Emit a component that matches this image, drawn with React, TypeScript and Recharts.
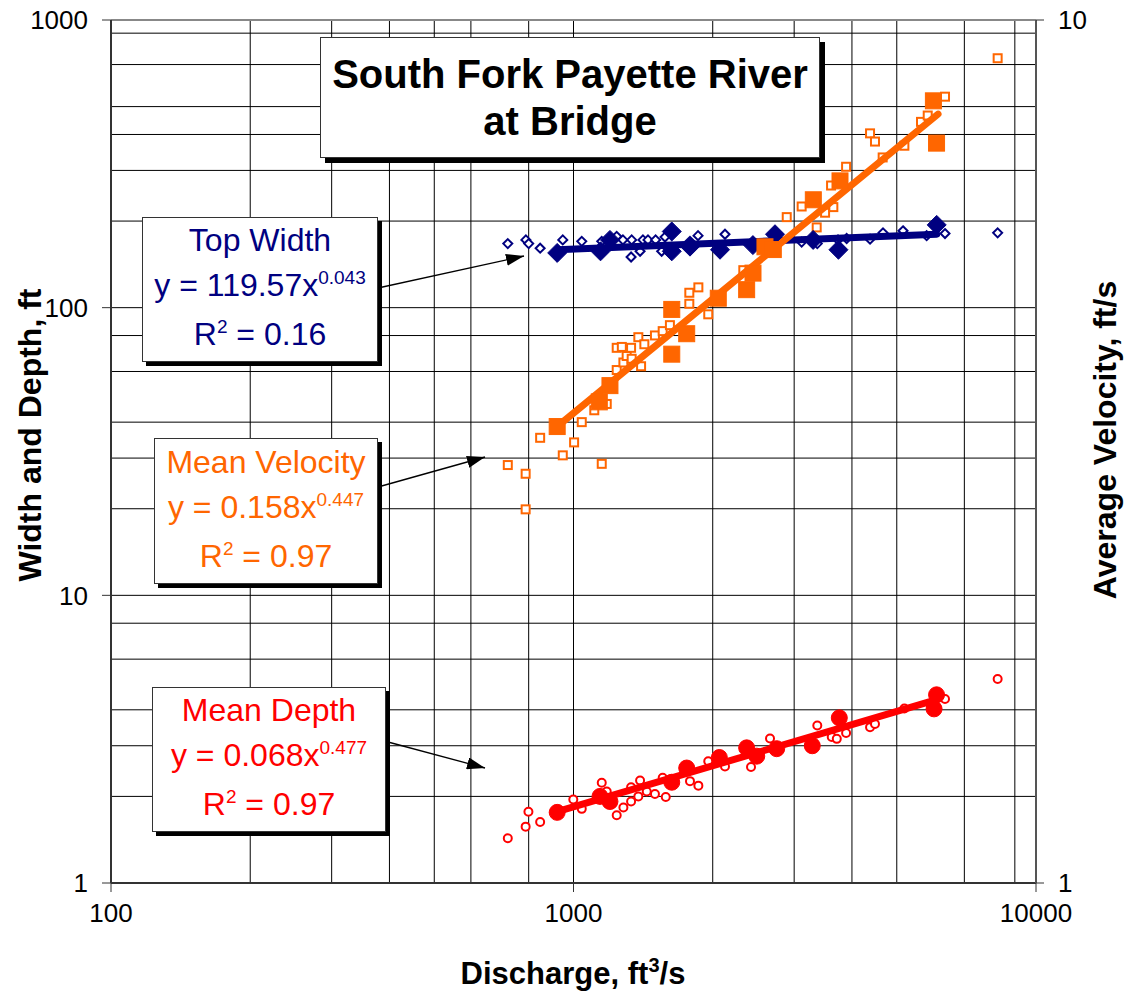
import React from "react";
import { CartesianGrid, ReferenceLine, Scatter, ScatterChart, XAxis, YAxis } from "recharts";

const NAVY = "#000080";
const ORANGE = "#FF6600";
const RED = "#FF0000";
const FONT = "Arial, 'Liberation Sans', Helvetica, sans-serif";

// axis ticks and log grid values
const xTicks = [100, 1000, 10000];
const leftTicks = [1, 10, 100, 1000];
const rightTicks = [1, 10];
const xGridValues = [200, 300, 400, 500, 600, 700, 800, 900, 1000, 2000, 3000, 4000, 5000, 6000, 7000, 8000, 9000];
const yGridValues = [2, 3, 4, 5, 6, 7, 8, 9, 10, 20, 30, 40, 50, 60, 70, 80, 90, 100, 200, 300, 400, 500, 600, 700, 800, 900];

// [discharge ft3/s, top width ft] — all measurements
const widthAll: [number, number][] = [
  [721, 167], [789, 172], [800, 167], [847, 161], [948, 172], [1042, 170], [1151, 170], [1240, 177],
  [1279, 172], [1336, 172], [1332, 150], [1393, 157], [1413, 172], [1449, 172], [1505, 172], [1551, 157],
  [1577, 176], [1786, 170], [1859, 178], [2126, 180], [3114, 169], [3366, 167], [3732, 172], [3896, 174],
  [4377, 173], [4669, 182], [5158, 185], [5802, 178], [6357, 181], [8262, 182],
];
// selected measurements used for the regression
const widthSel: [number, number][] = [
  [922, 155], [1144, 157], [1199, 172], [1631, 184], [1631, 157], [1786, 163], [2074, 159], [2443, 165],
  [2727, 180], [3297, 172], [3740, 159], [6100, 194],
];
const widthFit: [number, number][] = [[922, 159], [6100, 180]];

// [discharge, mean velocity ft/s] (right axis)
const velAll: [number, number][] = [
  [721, 3.05], [788, 2.98], [788, 2.71], [847, 3.28], [948, 3.13], [1003, 3.24], [1042, 3.42], [1151, 3.06],
  [1109, 3.53], [1180, 3.59], [1240, 3.93], [1240, 4.17], [1272, 4.18], [1282, 4.01], [1303, 4.08], [1332, 4.17],
  [1336, 4.05], [1381, 4.29], [1400, 3.97], [1423, 4.21], [1500, 4.31], [1559, 4.36], [1616, 4.43], [1780, 4.69],
  [1780, 4.83], [1862, 4.9], [1956, 4.56], [2329, 5.13], [2891, 5.91], [3114, 6.08], [3356, 5.75], [3499, 5.98],
  [3605, 6.43], [3646, 6.07], [3885, 6.76], [4377, 7.39], [4486, 7.23], [4661, 6.93], [5193, 7.15], [5641, 7.62],
  [5833, 7.75], [6357, 8.15], [8262, 9.03],
];
const velSel: [number, number][] = [
  [922, 3.38], [1137, 3.61], [1199, 3.77], [1631, 4.1], [1631, 4.62], [1757, 4.33], [2056, 4.76], [2368, 4.87],
  [2444, 5.09], [2594, 5.46], [2704, 5.42], [3300, 6.19], [3769, 6.51], [6000, 8.06], [6095, 7.2],
];
const velFit: [number, number][] = [[922, 3.38], [6140, 7.78]];

// [discharge, mean depth ft]
const depthAll: [number, number][] = [
  [721, 1.43], [788, 1.57], [799, 1.77], [847, 1.63], [999, 1.95], [1042, 1.81], [1151, 2.23], [1180, 2.08],
  [1240, 1.72], [1282, 1.83], [1332, 2.15], [1332, 1.92], [1381, 2.0], [1393, 2.27], [1440, 2.08], [1500, 2.04],
  [1559, 2.32], [1583, 1.99], [1786, 2.26], [1862, 2.18], [1956, 2.65], [2126, 2.54], [2420, 2.53], [2660, 3.18],
  [3366, 3.53], [3617, 3.22], [3709, 3.17], [3885, 3.32], [4377, 3.48], [4486, 3.57], [5193, 4.04], [6357, 4.36],
  [8262, 5.12],
];
const depthSel: [number, number][] = [
  [922, 1.76], [1141, 2.0], [1199, 1.92], [1631, 2.24], [1757, 2.51], [2067, 2.73], [2368, 2.95], [2490, 2.76],
  [2750, 2.93], [3283, 3.0], [3756, 3.75], [6020, 4.03], [6095, 4.51],
];
const depthFit: [number, number][] = [[922, 1.77], [6100, 4.34]];

const pts = (rows: [number, number][]) => rows.map(([x, y]) => ({ x, y }));

const diamond = (r: number, color: string, filled: boolean) => (p: any) => (
  <path
    d={`M${p.cx} ${p.cy - r}L${p.cx + r} ${p.cy}L${p.cx} ${p.cy + r}L${p.cx - r} ${p.cy}Z`}
    fill={filled ? color : "#fff"}
    stroke={color}
    strokeWidth={filled ? 1 : 2}
  />
);
const square = (r: number, color: string, filled: boolean) => (p: any) => (
  <rect
    x={p.cx - r}
    y={p.cy - r}
    width={2 * r}
    height={2 * r}
    fill={filled ? color : "#fff"}
    stroke={color}
    strokeWidth={filled ? 1 : 2}
  />
);
const circle = (r: number, color: string, filled: boolean) => (p: any) => (
  <circle cx={p.cx} cy={p.cy} r={r} fill={filled ? color : "#fff"} stroke={color} strokeWidth={filled ? 1 : 2} />
);
const noMarker = () => <g />;

const tickStyle = { fill: "#000", fontSize: 26, fontFamily: FONT };

function Box({
  left,
  top,
  width,
  height,
  color,
  shadow = 4,
  children,
}: {
  left: number;
  top: number;
  width: number;
  height: number;
  color: string;
  shadow?: number;
  children: React.ReactNode;
}) {
  return (
    <div
      style={{
        position: "absolute",
        left,
        top,
        width,
        height,
        boxSizing: "border-box",
        background: "#fff",
        border: "1px solid #333",
        boxShadow: `${shadow}px ${shadow}px 0 #000`,
        color,
        display: "flex",
        flexDirection: "column",
        alignItems: "center",
        justifyContent: "center",
        fontFamily: FONT,
        whiteSpace: "nowrap",
      }}
    >
      {children}
    </div>
  );
}

const Sup = ({ children }: { children: React.ReactNode }) => (
  <span style={{ fontSize: 19, position: "relative", top: -12 }}>{children}</span>
);

function EqLines({ name, a, b, r2 }: { name: string; a: string; b: string; r2: string }) {
  const line = { fontSize: 32, lineHeight: "45px" };
  return (
    <>
      <div style={line}>{name}</div>
      <div style={line}>
        y = {a}x<Sup>{b}</Sup>
      </div>
      <div style={line}>
        R<Sup>2</Sup> = {r2}
      </div>
    </>
  );
}

const vTitle = (left: number, top: number): React.CSSProperties => ({
  position: "absolute",
  left,
  top,
  transform: "translate(-50%, -50%) rotate(-90deg)",
  fontSize: 32,
  fontWeight: "bold",
  whiteSpace: "nowrap",
});

export default function App() {
  return (
    <div
      style={{ position: "absolute", left: 0, top: 0, width: 1125, height: 998, background: "#fff", fontFamily: FONT }}
    >
      <ScatterChart width={1125} height={998} margin={{ top: 20, right: 0, bottom: 0, left: 0 }}>
        <CartesianGrid
          yAxisId="left"
          horizontalValues={yGridValues}
          verticalValues={xGridValues}
          stroke="#000"
          strokeWidth={1}
        />
        <XAxis
          type="number"
          dataKey="x"
          scale="log"
          domain={[100, 10000]}
          ticks={xTicks}
          height={115}
          tick={tickStyle}
          tickSize={9}
          tickMargin={12}
          axisLine={{ stroke: "#333", strokeWidth: 2 }}
          tickLine={{ stroke: "#333" }}
          allowDataOverflow
        />
        <YAxis
          yAxisId="left"
          type="number"
          dataKey="y"
          scale="log"
          domain={[1, 1000]}
          ticks={leftTicks}
          width={111}
          tick={tickStyle}
          tickSize={9}
          tickMargin={14}
          axisLine={{ stroke: "#333", strokeWidth: 2 }}
          tickLine={{ stroke: "#333" }}
          allowDataOverflow
        />
        <YAxis
          yAxisId="right"
          orientation="right"
          type="number"
          dataKey="y"
          scale="log"
          domain={[1, 10]}
          ticks={rightTicks}
          width={89}
          tick={tickStyle}
          tickSize={8}
          tickMargin={14}
          axisLine={{ stroke: "#555", strokeWidth: 2 }}
          tickLine={{ stroke: "#333" }}
          allowDataOverflow
        />
        <ReferenceLine yAxisId="left" y={1000} stroke="#888" strokeWidth={2} />

        <Scatter yAxisId="left" data={pts(widthAll)} shape={diamond(4.5, NAVY, false)} isAnimationActive={false} />
        <Scatter yAxisId="right" data={pts(velAll)} shape={square(4, ORANGE, false)} isAnimationActive={false} />
        <Scatter yAxisId="left" data={pts(depthAll)} shape={circle(4, RED, false)} isAnimationActive={false} />

        <Scatter
          yAxisId="left"
          data={pts(widthFit)}
          line={{ stroke: NAVY, strokeWidth: 7, strokeLinecap: "round" }}
          shape={noMarker}
          isAnimationActive={false}
        />
        <Scatter
          yAxisId="right"
          data={pts(velFit)}
          line={{ stroke: ORANGE, strokeWidth: 7, strokeLinecap: "round" }}
          shape={noMarker}
          isAnimationActive={false}
        />
        <Scatter
          yAxisId="left"
          data={pts(depthFit)}
          line={{ stroke: RED, strokeWidth: 7, strokeLinecap: "round" }}
          shape={noMarker}
          isAnimationActive={false}
        />

        <Scatter yAxisId="left" data={pts(widthSel)} shape={diamond(9.5, NAVY, true)} isAnimationActive={false} />
        <Scatter yAxisId="right" data={pts(velSel)} shape={square(8, ORANGE, true)} isAnimationActive={false} />
        <Scatter yAxisId="left" data={pts(depthSel)} shape={circle(8, RED, true)} isAnimationActive={false} />
      </ScatterChart>

      {/* arrows from the equation boxes */}
      <svg width={1125} height={998} style={{ position: "absolute", left: 0, top: 0, pointerEvents: "none" }}>
        <defs>
          <marker
            id="ah"
            markerUnits="userSpaceOnUse"
            markerWidth={18}
            markerHeight={12}
            refX={18}
            refY={6}
            orient="auto"
          >
            <path d="M0 0L18 6L0 12Z" fill="#000" />
          </marker>
        </defs>
        <line x1={378} y1={288} x2={524} y2={256} stroke="#000" strokeWidth={1.3} markerEnd="url(#ah)" />
        <line x1={378} y1={487} x2={485} y2={457} stroke="#000" strokeWidth={1.3} markerEnd="url(#ah)" />
        <line x1={388} y1={742} x2={485} y2={768} stroke="#000" strokeWidth={1.3} markerEnd="url(#ah)" />
      </svg>

      <Box left={320} top={37} width={500} height={121} color="#000" shadow={5}>
        <div style={{ fontSize: 40, fontWeight: "bold", lineHeight: "47px", textAlign: "center" }}>
          South Fork Payette River
          <br />
          at Bridge
        </div>
      </Box>
      <Box left={142} top={217} width={236} height={145} color={NAVY}>
        <EqLines name="Top Width" a="119.57" b="0.043" r2="0.16" />
      </Box>
      <Box left={154} top={438} width={224} height={146} color={ORANGE}>
        <EqLines name="Mean Velocity" a="0.158" b="0.447" r2="0.97" />
      </Box>
      <Box left={152} top={687} width={234} height={145} color={RED}>
        <EqLines name="Mean Depth" a="0.068" b="0.477" r2="0.97" />
      </Box>

      <div style={vTitle(30, 435)}>Width and Depth, ft</div>
      <div style={vTitle(1105, 440)}>Average Velocity, ft/s</div>
      <div
        style={{
          position: "absolute",
          left: 573,
          top: 974,
          transform: "translate(-50%, -50%)",
          fontSize: 31,
          fontWeight: "bold",
          whiteSpace: "nowrap",
        }}
      >
        Discharge, ft<span style={{ fontSize: 20, position: "relative", top: -12 }}>3</span>/s
      </div>
    </div>
  );
}
